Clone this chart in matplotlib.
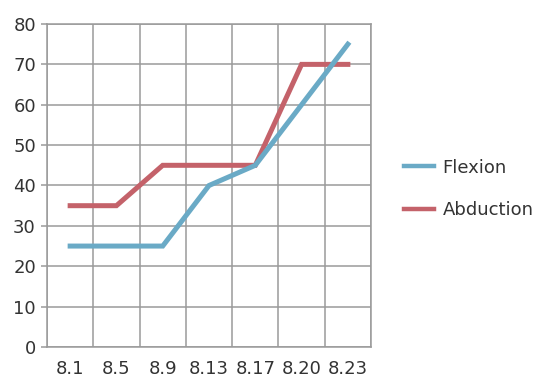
import matplotlib
matplotlib.use("Agg")
import matplotlib.pyplot as plt
from matplotlib.lines import Line2D
import numpy as np

categories = ["8.1", "8.5", "8.9", "8.13", "8.17", "8.20", "8.23"]
flexion = [25, 25, 25, 40, 45, 60, 75]
abduction = [35, 35, 45, 45, 45, 70, 70]
y_ticks = [0, 10, 20, 30, 40, 50, 60, 70, 80]

plt.rcParams['font.family'] = ['DejaVu Sans']

fig = plt.figure(figsize=(5.39, 3.81), dpi=100)
ax = fig.add_axes([47/539, 1 - 347/381, (371 - 47)/539, (347 - 24)/381])

x = np.arange(len(categories))
grid_c = "#9a9a9a"
blue = "#6aaac6"
red = "#c4626a"
ax.plot(x, abduction, color=red, lw=3.6, solid_joinstyle="miter", zorder=3)
ax.plot(x, flexion, color=blue, lw=3.6, solid_joinstyle="miter", zorder=4)

ax.set_xlim(-0.5, len(categories) - 0.5)
ax.set_ylim(0, 80)
ax.set_xticks(x)
ax.set_xticklabels(categories)
ax.set_xticks(np.arange(-0.5, len(categories)), minor=True)
ax.set_yticks(y_ticks)
ax.grid(True, which="minor", axis="x", color=grid_c, lw=1.1)
ax.grid(True, which="major", axis="y", color=grid_c, lw=1.1)
ax.tick_params(axis="x", which="both", length=0, pad=9, labelsize=13, colors="#333333")
ax.tick_params(axis="y", length=4, width=1.1, color=grid_c, pad=4, labelsize=13, labelcolor="#333333")
for s in ax.spines.values():
    s.set_color(grid_c)
    s.set_linewidth(1.1)
ax.set_axisbelow(True)

handles = [Line2D([], [], color=blue, lw=3.2), Line2D([], [], color=red, lw=3.2)]
fig.legend(handles, ["Flexion", "Abduction"], loc="center left",
           bbox_to_anchor=(390/539, 1 - 189/381),
           frameon=False, fontsize=13, handlelength=1.65, handletextpad=0.45,
           labelspacing=1.35, labelcolor="#333333", borderpad=0.3)

fig.savefig("out.png", dpi=100)
